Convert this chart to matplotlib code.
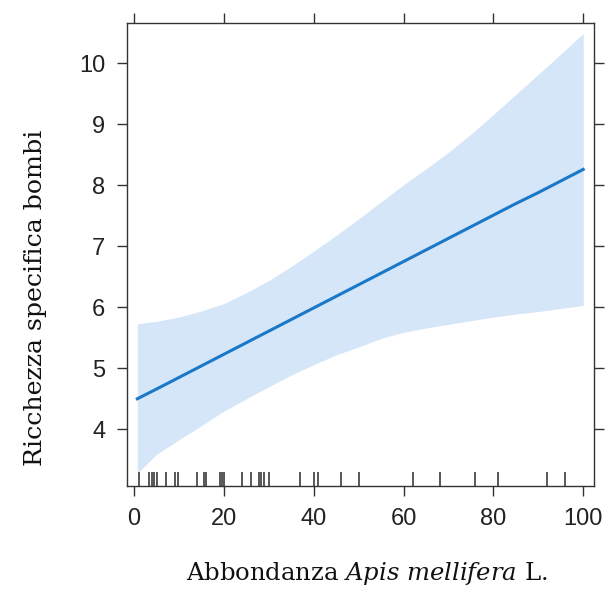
import matplotlib
matplotlib.use("Agg")
import matplotlib.pyplot as plt
import matplotlib.transforms as mtransforms

plt.rcParams["mathtext.fontset"] = "custom"
plt.rcParams["mathtext.rm"] = "DejaVu Serif"
plt.rcParams["mathtext.it"] = "DejaVu Serif:italic"

# Data
x_grid = [0.7, 5, 10, 15, 20, 25, 30, 35, 40, 45, 50, 55, 60, 65, 70, 75, 80, 85, 90, 95, 100]
fit = [4.50, 4.66, 4.85, 5.04, 5.23, 5.42, 5.61, 5.80, 5.99, 6.18, 6.37,
       6.56, 6.75, 6.94, 7.13, 7.32, 7.51, 7.70, 7.88, 8.07, 8.26]
upper = [5.73, 5.77, 5.84, 5.94, 6.06, 6.24, 6.44, 6.67, 6.92, 7.18, 7.45,
         7.73, 8.01, 8.27, 8.54, 8.84, 9.16, 9.49, 9.82, 10.15, 10.49]
lower = [3.28, 3.59, 3.83, 4.06, 4.30, 4.50, 4.70, 4.89, 5.06, 5.22, 5.35,
         5.49, 5.59, 5.66, 5.72, 5.78, 5.84, 5.89, 5.93, 5.98, 6.03]
rug = [1, 3.3, 3.9, 4.4, 5, 7, 9, 9.7, 14, 15.5, 16.1, 19, 19.5, 20.1, 24,
       26, 27.7, 28.3, 29, 30, 37, 40, 41, 46, 50, 62, 68, 76, 81, 92, 96]
x_ticks = [0, 20, 40, 60, 80, 100]
y_ticks = [4, 5, 6, 7, 8, 9, 10]

fig = plt.figure(figsize=(6.11, 5.90), dpi=100)
ax = fig.add_axes([127/611, 1-486/590, (594-127)/611, (486-23)/590])

ax.fill_between(x_grid, lower, upper, color="#d5e6f8", linewidth=0)
ax.plot(x_grid, fit, color="#1a78c8", linewidth=2.2)

trans = mtransforms.blended_transform_factory(ax.transData, ax.transAxes)
for r in rug:
    ax.plot([r, r], [0, 0.03], color="#2a2a2a", linewidth=1.1, transform=trans,
            solid_capstyle="butt")

ax.set_xlim(-1.6, 102.4)
ax.set_ylim(3.07, 10.66)
ax.set_xticks(x_ticks)
ax.set_yticks(y_ticks)
ax.tick_params(axis="both", which="both", direction="out", length=7.5, width=1.0,
               color="#333333", top=True, right=True, labeltop=False, labelright=False,
               labelsize=17, pad=8, labelcolor="#222222")
for lab in ax.get_xticklabels() + ax.get_yticklabels():
    lab.set_fontfamily("Liberation Sans")
for sp in ax.spines.values():
    sp.set_color("#333333")
    sp.set_linewidth(1.0)

fig.text(36/611, 1-298/590, "Ricchezza specifica bombi", rotation=90,
         ha="center", va="center", fontsize=18.2, family="DejaVu Serif", color="#111111")
fig.text(367/611, 1-580/590, r"Abbondanza $\mathit{Apis\ mellifera}$ L.",
         ha="center", va="baseline", fontsize=17.5, family="DejaVu Serif", color="#111111")

fig.savefig("out.png", dpi=100)
